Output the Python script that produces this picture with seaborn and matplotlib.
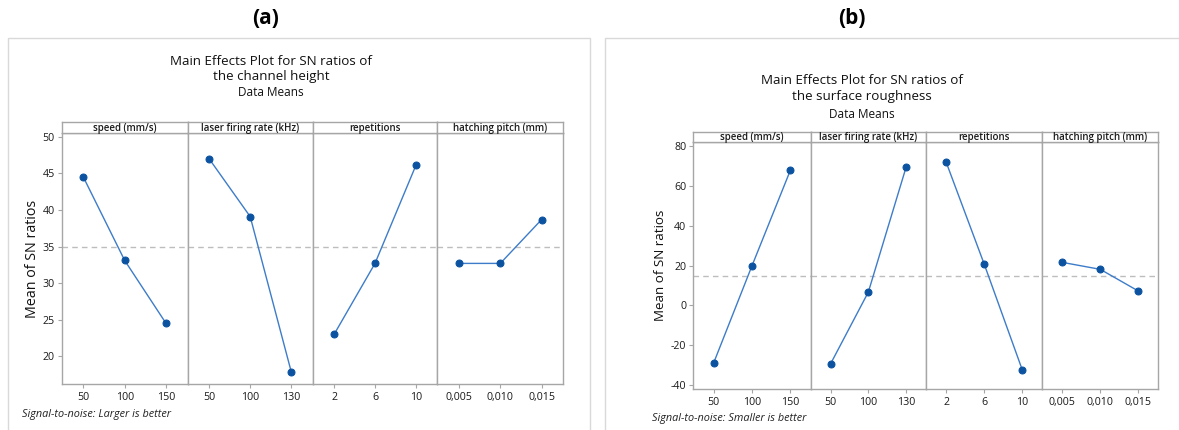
import matplotlib
matplotlib.use("Agg")
import matplotlib.pyplot as plt
import seaborn as sns
import pandas as pd
from matplotlib.patches import Rectangle

# ---------------- data ----------------
factors = ["speed (mm/s)", "laser firing rate (kHz)", "repetitions", "hatching pitch (mm)"]
speed_levels = ["50", "100", "150"]
laser_levels = ["50", "100", "130"]
rep_levels = ["2", "6", "10"]
hatch_levels = ["0,005", "0,010", "0,015"]

# (a) channel height, SN ratios (larger is better)
a_speed = [44.5, 33.1, 24.5]
a_laser = [47.0, 39.1, 17.9]
a_rep = [23.0, 32.7, 46.1]
a_hatch = [32.7, 32.7, 38.7]
a_mean = 35.0
a_yticks = [20, 25, 30, 35, 40, 45, 50]

# (b) surface roughness, SN ratios (smaller is better)
b_speed = [-29.1, 19.9, 68.0]
b_laser = [-29.4, 6.7, 69.5]
b_rep = [72.1, 20.8, -32.4]
b_hatch = [21.6, 18.1, 7.2]
b_mean = 14.7
b_yticks = [-40, -20, 0, 20, 40, 60, 80]

# ---------------- style ----------------
sns.set_theme(style="white")
plt.rcParams["font.family"] = ["Open Sans", "DejaVu Sans"]

W, H = 1179, 430
fig = plt.figure(figsize=(W / 100, H / 100), dpi=100)
fig.patch.set_facecolor("white")

FRAME = "#A6A6A6"
LINE_C = "#3D7CC9"
MARK_C = "#0B52A0"
MEAN_C = "#BDBDBD"


def rect(x0, y0, x1, y1):
    return [x0 / W, 1 - y1 / H, (x1 - x0) / W, (y1 - y0) / H]


def draw_panel(edges, strip_top, top, bottom, ylim, yticks, series, mean,
               title1, title2, tcx, ty, letter, lcx, ylabel, ylx, ylsize,
               footer, fx, fy, box):
    # outer light box
    bx0, by0, bx1, by1 = box
    fig.patches.append(Rectangle((bx0 / W, 1 - by1 / H), (bx1 - bx0) / W, (by1 - by0) / H,
                                 transform=fig.transFigure, fill=False,
                                 edgecolor="#D9D9D9", linewidth=1.0))
    levels_list = [speed_levels, laser_levels, rep_levels, hatch_levels]
    for i in range(4):
        x0, x1 = edges[i], edges[i + 1]
        ax = fig.add_axes(rect(x0, top, x1, bottom))
        df = pd.DataFrame({"level": levels_list[i], "sn": series[i]})
        sns.pointplot(data=df, x="level", y="sn", order=levels_list[i], ax=ax,
                      color=MARK_C, errorbar=None, markers="o", markersize=5,
                      linewidth=1.0)
        for ln in ax.lines:
            ln.set_color(LINE_C)
            ln.set_markerfacecolor(MARK_C)
            ln.set_markeredgecolor(MARK_C)
            ln.set_zorder(3)
        ax.axhline(mean, color=MEAN_C, linestyle=(0, (4, 3)), linewidth=1.0, zorder=1)
        ax.set_xlim(-0.525, 2.525)
        ax.set_ylim(*ylim)
        ax.set_xlabel("")
        ax.set_ylabel("")
        for s in ax.spines.values():
            s.set_color(FRAME)
            s.set_linewidth(1.0)
        ax.tick_params(axis="x", which="both", bottom=True, length=3, width=0.8,
                       color=FRAME, labelsize=7.7, pad=3, labelcolor="#1a1a1a")
        if i == 0:
            ax.set_yticks(yticks)
            ax.set_yticklabels([str(t) for t in yticks])
            ax.tick_params(axis="y", left=True, length=3, width=0.8, color=FRAME,
                           labelsize=7.7, pad=2, labelcolor="#1a1a1a")
        else:
            ax.set_yticks(yticks)
            ax.tick_params(axis="y", left=False, labelleft=False)
        ax.grid(False)
        # strip
        sax = fig.add_axes(rect(x0, strip_top, x1, top))
        sax.set_xticks([])
        sax.set_yticks([])
        sax.set_facecolor("white")
        for s in sax.spines.values():
            s.set_color(FRAME)
            s.set_linewidth(1.0)
        sax.text(0.5, 0.45, factors[i], ha="center", va="center", fontsize=7,
                 fontweight="semibold", color="#1a1a1a", transform=sax.transAxes)
    fig.text(ylx / W, 1 - ((top + bottom) / 2) / H, ylabel, rotation=90,
             ha="center", va="center", fontsize=ylsize, color="#111111")
    fig.text(tcx / W, 1 - ty[0] / H, title1[0], ha="center", va="center",
             fontsize=9.6, color="#111111")
    fig.text(tcx / W, 1 - ty[1] / H, title1[1], ha="center", va="center",
             fontsize=9.6, color="#111111")
    fig.text(tcx / W, 1 - ty[2] / H, title2, ha="center", va="center",
             fontsize=8.5, color="#111111")
    fig.text(lcx / W, 1 - 18 / H, letter, ha="center", va="center",
             fontsize=15, fontweight="bold", color="black")
    fig.text(fx / W, 1 - fy / H, footer, ha="left", va="center",
             fontsize=7.8, style="italic", color="#222222")


draw_panel(edges=[61.7, 187.7, 312.7, 437.3, 563.3], strip_top=121.7, top=133.3,
           bottom=384, ylim=(16.2, 50.5), yticks=a_yticks,
           series=[a_speed, a_laser, a_rep, a_hatch], mean=a_mean,
           title1=["Main Effects Plot for SN ratios of", "the channel height"],
           title2="Data Means", tcx=271, ty=[61.5, 76.5, 92], letter="(a)", lcx=266,
           ylabel="Mean of SN ratios", ylx=32, ylsize=10.3,
           footer="Signal-to-noise: Larger is better", fx=22, fy=415,
           box=(8, 38, 590, 440))

draw_panel(edges=[693.3, 810.7, 926, 1042.3, 1158.3], strip_top=131.7, top=142.3,
           bottom=389, ylim=(-42, 81.9), yticks=b_yticks,
           series=[b_speed, b_laser, b_rep, b_hatch], mean=b_mean,
           title1=["Main Effects Plot for SN ratios of", "the surface roughness"],
           title2="Data Means", tcx=862, ty=[80, 96.5, 114], letter="(b)", lcx=852,
           ylabel="Mean of SN ratios", ylx=660, ylsize=9.6,
           footer="Signal-to-noise: Smaller is better", fx=652, fy=418,
           box=(605, 38, 1185, 440))

fig.savefig("out.png", dpi=100, facecolor="white")
